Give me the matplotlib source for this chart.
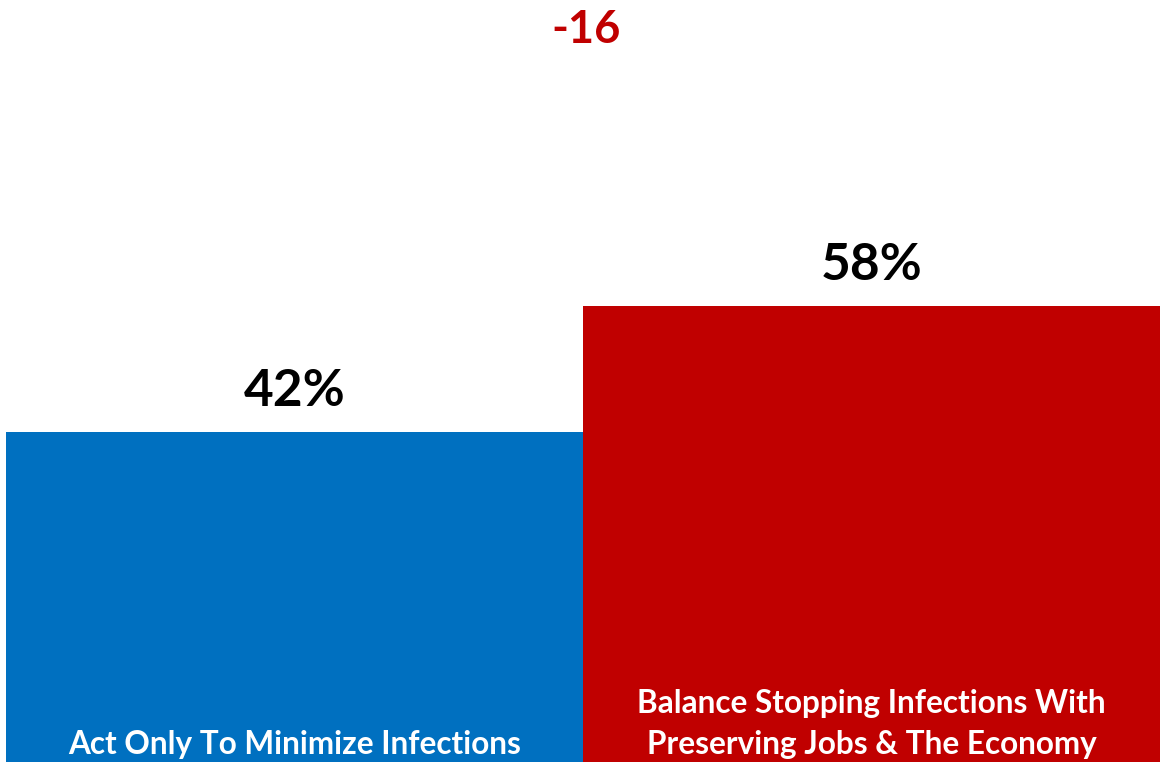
import numpy as np
import matplotlib.pyplot as plt

# Datos
categorias = ['Act Only To Minimize Infections',
              'Balance Stopping Infections With\nPreserving Jobs & The Economy']
valores = [42, 58]
colores = ['#0070C0', '#C00000']
diferencia = '-16'

w, h = 11.61, 7.62
fig = plt.figure(figsize=(w, h), dpi=100)
ax = fig.add_axes([0, 0, 1, 1])
plt.rcParams['font.family'] = ['Lato', 'DejaVu Sans']

x = np.arange(len(valores))
ax.bar(x, valores, width=1.0, color=colores)

ax.set_xlim(-0.5 - 6/577, 1.5 + 1/577)
ax.set_ylim(0, 762/7.857)
ax.axis('off')

for xi, v in zip(x, valores):
    ax.text(xi, v + 3.3, f'{v}%', ha='center', va='baseline',
            fontsize=37, fontweight='bold', color='black')

for xi, lab in zip(x, categorias):
    ax.text(xi, 0.35, lab, ha='center', va='bottom', fontsize=22.7,
            fontweight='bold', color='white', linespacing=1.5)

ax.text(0.5 + 3/577, 91.5, diferencia, ha='center', va='baseline',
        fontsize=32.5, fontweight='bold', color='#C00000')

fig.savefig('out.png', dpi=100)
